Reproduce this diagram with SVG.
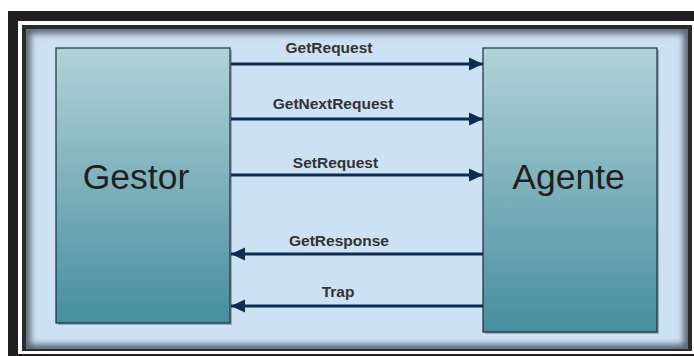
<svg xmlns="http://www.w3.org/2000/svg" width="694" height="356" viewBox="0 0 694 356">
  <style>
    .box { stroke: #1c2f3c; stroke-width: 1.2; }
    .shadow { fill: #6b7b88; opacity: 0.55; }
    .title { font-family: "Liberation Sans", Arial, sans-serif; font-size: 35.5px; fill: #231f20; text-anchor: middle; }
    .msg { font-family: "Liberation Sans", Arial, sans-serif; font-size: 15.5px; font-weight: bold; fill: #333333; text-anchor: middle; }
    .link { stroke: #0e2c50; stroke-width: 3; fill: none; }
  </style>
  <defs>
    <linearGradient id="boxFill" x1="0" y1="0" x2="0" y2="1">
      <stop offset="0" stop-color="#b2d2d8"/>
      <stop offset="1" stop-color="#478e9e"/>
    </linearGradient>
    <marker id="head" markerUnits="userSpaceOnUse" markerWidth="14" markerHeight="14" refX="14" refY="7" orient="auto">
      <path d="M0,0.5 L14,7 L0,13.5 Z" fill="#0e2c50"/>
    </marker>
    <clipPath id="panelClip">
      <rect x="26" y="29" width="662" height="320"/>
    </clipPath>
    <filter id="soft" x="-10%" y="-10%" width="120%" height="120%">
      <feGaussianBlur stdDeviation="3"/>
    </filter>
  </defs>

  <!-- outer frame -->
  <rect x="8" y="11" width="700" height="360" fill="#231f20"/>
  <rect x="18" y="21" width="690" height="333" fill="#ffffff"/>

  <!-- panel -->
  <rect x="22" y="25" width="670" height="326" fill="#2a2a2c"/>
  <rect x="26" y="29" width="662" height="320" fill="#cde1f4"/>
  <g clip-path="url(#panelClip)">
    <rect x="26" y="29" width="662" height="320" fill="none" stroke="#55606e" stroke-width="9" filter="url(#soft)"/>
  </g>

  <!-- nodes -->
  <g id="gestor">
    <rect class="shadow" x="58" y="50" width="174" height="275"/>
    <rect class="box" x="56" y="48" width="174" height="275" fill="url(#boxFill)"/>
    <text class="title" x="136" y="189">Gestor</text>
  </g>
  <g id="agente">
    <rect class="shadow" x="485" y="50" width="174" height="284"/>
    <rect class="box" x="483" y="48" width="174" height="284" fill="url(#boxFill)"/>
    <text class="title" x="568.5" y="189">Agente</text>
  </g>

  <!-- connectors -->
  <g id="connectors">
    <line class="link" x1="231" y1="64" x2="483" y2="64" marker-end="url(#head)"/>
    <text class="msg" x="329" y="53">GetRequest</text>

    <line class="link" x1="231" y1="119" x2="483" y2="119" marker-end="url(#head)"/>
    <text class="msg" x="333" y="109">GetNextRequest</text>

    <line class="link" x1="231" y1="175" x2="483" y2="175" marker-end="url(#head)"/>
    <text class="msg" x="335.5" y="168">SetRequest</text>

    <line class="link" x1="483" y1="254" x2="231" y2="254" marker-end="url(#head)"/>
    <text class="msg" x="339" y="246">GetResponse</text>

    <line class="link" x1="483" y1="306" x2="231" y2="306" marker-end="url(#head)"/>
    <text class="msg" x="338" y="297">Trap</text>
  </g>
</svg>
